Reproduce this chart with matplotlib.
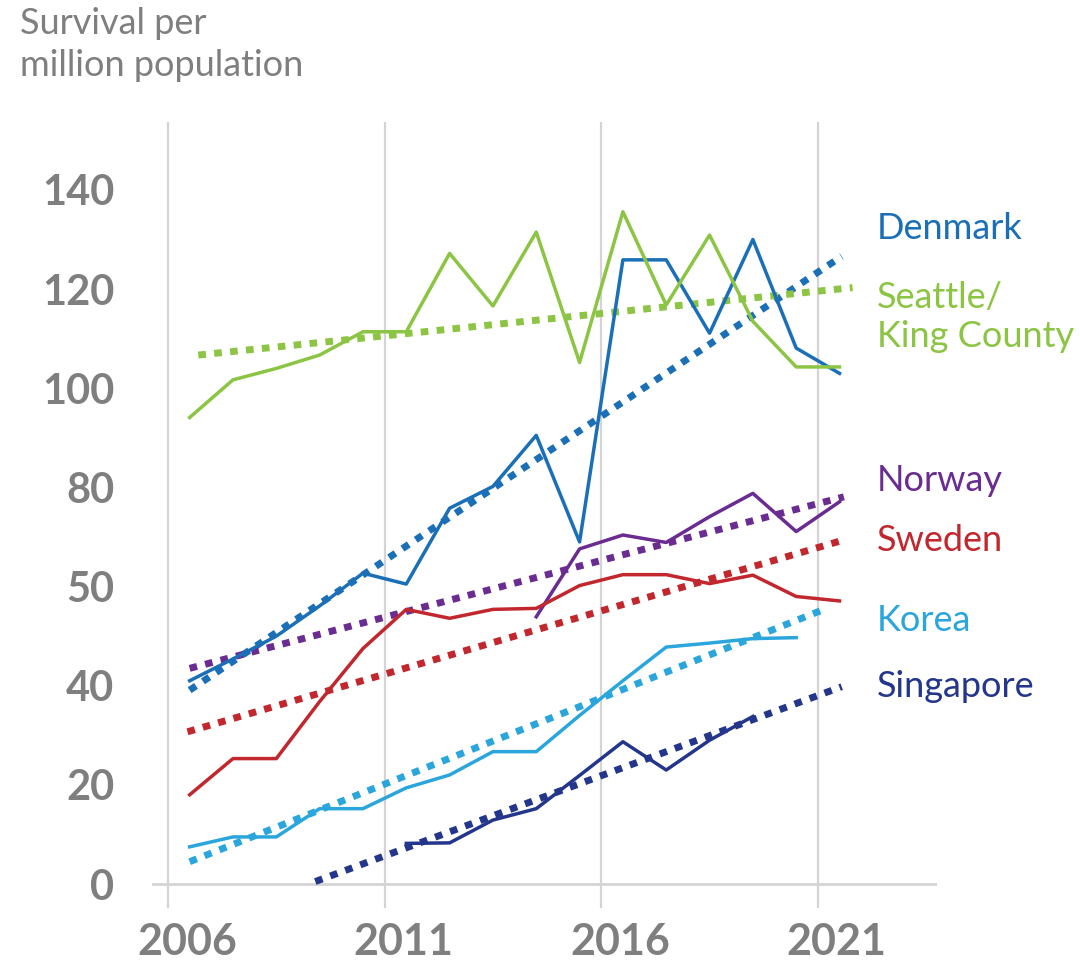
import numpy as np
import matplotlib
matplotlib.use("Agg")
import matplotlib.pyplot as plt
import matplotlib.transforms as mtransforms

plt.rcParams['font.family'] = ['Lato', 'DejaVu Sans']

# yearly survival per million population (points sit mid-year)
years = np.arange(2006, 2022)
denmark = [41, 45.4, 50, 56.1, 62.7, 60.5, 75.8, 80.2, 90.5, 69, 125.9, 125.9, 111.1, 130, 108.1, 103]
seattle = [94.1, 101.7, 104, 106.7, 111.4, 111.4, 127.2, 116.6, 131.5, 105.2, 135.6, 116.8, 130.9, 113.5, 104.3, 104.3]
norway_years = np.arange(2014, 2022)
norway = [53.9, 67.6, 70.4, 68.9, 74.1, 78.8, 71.1, 77.1]
sweden = [18, 25.3, 25.3, 36.8, 47.5, 55.4, 53.6, 55.4, 55.6, 60.2, 62.4, 62.4, 60.6, 62.3, 58, 57.1]
korea_years = np.arange(2006, 2021)
korea = [7.5, 9.5, 9.5, 15.2, 15.2, 19.4, 22, 26.7, 26.7, 34, 41, 47.8, 48.6, 49.5, 49.7]
singapore_years = np.arange(2011, 2020)
singapore = [8.2, 8.3, 12.9, 15.2, 21.9, 28.7, 23, 29, 33.8]

# trend lines: (x start, x end), (y start, y end)
trend_denmark = ([2006.5, 2021.55], [39.1, 126.6])
trend_seattle = ([2006.7, 2021.8], [106.7, 120.3])
trend_norway = ([2006.5, 2021.6], [43.5, 78.1])
trend_sweden = ([2006.45, 2021.6], [30.7, 69.4])
trend_korea = ([2006.5, 2021.2], [4.5, 55.6])
trend_singapore = ([2009.4, 2021.55], [0.5, 39.8])

ytick_vals = [0, 20, 40, 60, 80, 100, 120, 140]
ytick_labels = ['0', '20', '40', '50', '80', '100', '120', '140']
xtick_vals = [2006, 2011, 2016, 2021]

c_den = '#1b6fb6'
c_sea = '#8cc443'
c_nor = '#6a2c91'
c_swe = '#c1272d'
c_kor = '#2ba6dd'
c_sin = '#24368c'
gray = '#7f7f7f'

fig = plt.figure(figsize=(10.8, 9.77), dpi=100)
ax = fig.add_axes([0.1407, 0.0706, 0.7269, 0.8045])
ax.set_xlim(2005.63, 2023.75)
ax.set_ylim(-4.84, 153.7)

for xv in xtick_vals:
    ax.axvline(xv, color='#d4d4d4', lw=1.6, zorder=0)
ax.axhline(0, color='#d4d4d4', lw=2, zorder=0)

series = [
    (years, denmark, trend_denmark, c_den),
    (years, seattle, trend_seattle, c_sea),
    (norway_years, norway, trend_norway, c_nor),
    (years, sweden, trend_sweden, c_swe),
    (korea_years, korea, trend_korea, c_kor),
    (singapore_years, singapore, trend_singapore, c_sin),
]
for yrs, vals, trend, col in series:
    ax.plot(yrs + 0.5, vals, color=col, lw=2.5, zorder=3)
    ax.plot(trend[0], trend[1], color=col, lw=5, ls=(0, (1.1, 1.2)),
            dash_capstyle='butt', zorder=2)

labels = [
    ('Denmark', 132.3, c_den),
    ('Seattle/\nKing County', 114.3, c_sea),
    ('Norway', 81.3, c_nor),
    ('Sweden', 69.2, c_swe),
    ('Korea', 53.1, c_kor),
    ('Singapore', 39.9, c_sin),
]
for txt, yv, col in labels:
    ax.text(2022.36, yv, txt, color=col, fontsize=26, va='center', ha='left',
            linespacing=1.22, clip_on=False)

for s in ax.spines.values():
    s.set_visible(False)
ax.set_yticks(ytick_vals)
ax.set_yticklabels(ytick_labels)
ax.set_xticks(xtick_vals)
ax.set_xticklabels([str(x) for x in xtick_vals])
ax.tick_params(axis='y', length=0, pad=27, labelsize=30, labelcolor=gray)
ax.tick_params(axis='x', length=0, pad=10, labelsize=31, labelcolor=gray)
shift = mtransforms.ScaledTranslation(19 / 100, 0, fig.dpi_scale_trans)
for t in ax.get_xticklabels():
    t.set_transform(t.get_transform() + shift)
for t in ax.get_xticklabels() + ax.get_yticklabels():
    t.set_fontweight('bold')

fig.text(20 / 1080, 1 - 7 / 977, 'Survival per\nmillion population', color=gray,
         fontsize=26, va='top', ha='left', linespacing=1.33)

fig.savefig('out.png', dpi=100)
